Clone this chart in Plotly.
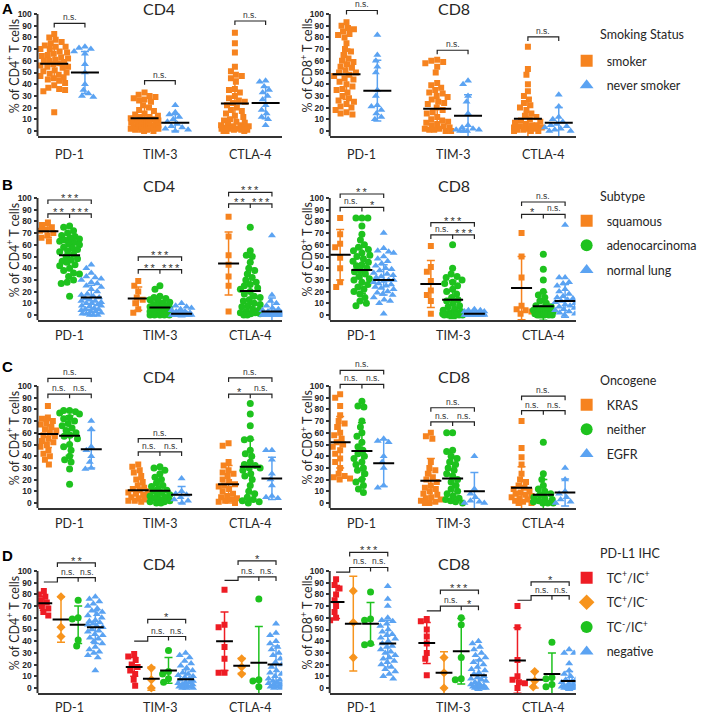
import numpy as np
import plotly.graph_objects as go

W, H = 702, 717
CATEGORIES = ["PD-1", "TIM-3", "CTLA-4"]
CELLS = ["CD4", "CD8"]
Y_TICKS = list(range(0, 101, 10))

# ---------------- Panel A: smoking status ----------------
A_GROUPS = ["smoker", "never smoker"]
A_CD4_smoker = [
    [83, 80, 78, 76, 75, 73, 72, 72, 70, 70, 68, 67, 66, 65, 64, 63, 62, 61, 60, 60, 59, 58, 57, 56, 55, 55, 54, 52, 51, 50, 49, 48, 47, 46, 45, 44, 43, 41, 39, 37, 36, 35, 34, 16],
    [33, 31, 30, 29, 28, 27, 26, 25, 22, 20, 18, 17, 15, 14, 13, 12, 12, 11, 10, 10, 9, 9, 8, 8, 7, 7, 6, 6, 5, 5, 5, 4, 4, 3, 3, 3, 2, 2, 2, 1, 1, 1, 0, 0],
    [84, 75, 67, 55, 51, 48, 47, 45, 42, 36, 35, 33, 30, 28, 26, 25, 24, 22, 20, 18, 17, 15, 13, 12, 10, 9, 8, 7, 6, 5, 5, 4, 4, 3, 3, 2, 2, 2, 1, 1, 1, 0, 0, 0],
]
A_CD4_smoker_mean = [57.5, 11, 23.5]
A_CD4_smoker_sd = [13, 9.5, 21]
A_CD4_never = [
    [72, 71, 70, 68, 66, 57, 50, 40, 35, 32, 30, 29],
    [22, 16, 14, 12, 10, 8, 6, 4, 3, 2, 1, 0],
    [43, 42, 38, 35, 33, 30, 27, 22, 18, 15, 12, 10, 5],
]
A_CD4_never_mean = [50, 7, 24]
A_CD4_never_sd = [18, 7, 13.5]
A_CD8_smoker = [
    [93, 90, 88, 87, 85, 83, 82, 80, 75, 70, 68, 65, 62, 60, 59, 57, 55, 54, 52, 50, 50, 48, 47, 45, 44, 42, 40, 38, 36, 35, 33, 30, 28, 26, 25, 23, 21, 20, 18, 16, 15, 14],
    [61, 60, 59, 58, 55, 50, 41, 39, 37, 35, 33, 32, 30, 29, 27, 25, 24, 23, 20, 18, 16, 15, 12, 10, 9, 8, 7, 6, 5, 4, 3, 2, 2, 1, 1, 0, 0],
    [72, 53, 48, 40, 34, 30, 27, 24, 22, 20, 18, 15, 13, 12, 10, 9, 8, 7, 6, 5, 5, 4, 3, 3, 2, 2, 1, 1, 0, 0, 0],
]
A_CD8_smoker_mean = [48.5, 19, 10.5]
A_CD8_smoker_sd = [21.5, 18, 17.5]
A_CD8_never = [
    [82, 65, 60, 55, 50, 35, 30, 22, 21, 18, 15, 12, 10],
    [43, 40, 30, 25, 15, 5, 3, 2, 1, 1, 0, 0, 0],
    [31, 21, 12, 10, 8, 6, 5, 4, 3, 2, 1, 0, 0],
]
A_CD8_never_mean = [34.5, 13, 7]
A_CD8_never_sd = [26, 18, 13]
A_CD4_BRACKET = [92, 43, 94]
A_CD8_BRACKET = [103, 69, 80.5]
A_CD4_SIG = ["n.s.", "n.s.", "n.s."]
A_CD8_SIG = ["n.s.", "n.s.", "n.s."]

# ---------------- Panel B: subtype ----------------
B_GROUPS = ["squamous", "adenocarcinoma", "normal lung"]
B_CD4_squam = [
    [79, 77, 75, 73, 72, 70, 68, 66, 63],
    [29, 25, 20, 15, 13, 10, 5, 2],
    [84, 67, 51, 43, 33, 25, 3],
]
B_CD4_squam_mean = [71.5, 14, 44]
B_CD4_squam_sd = [5, 10, 27]
B_CD4_adeno = [
    [76, 75, 72, 70, 68, 67, 66, 65, 64, 63, 62, 61, 60, 58, 57, 56, 55, 54, 52, 50, 48, 47, 46, 45, 43, 42, 40, 38, 36, 35, 33, 30, 28, 27, 16],
    [25, 22, 16, 15, 14, 13, 12, 11, 10, 9, 8, 8, 7, 7, 6, 6, 5, 5, 5, 4, 4, 3, 3, 3, 2, 2, 2, 1, 1, 1, 0, 0, 0, 0, 0],
    [75, 55, 51, 50, 45, 40, 38, 35, 32, 30, 28, 26, 25, 23, 22, 20, 18, 16, 15, 13, 12, 10, 9, 8, 7, 5, 4, 3, 2, 2, 1, 1, 0, 0],
]
B_CD4_adeno_mean = [51, 6.5, 20.5]
B_CD4_adeno_sd = [13, 6, 19.5]
B_CD4_normal = [
    [43, 40, 36, 33, 32, 31, 30, 28, 27, 25, 24, 22, 20, 18, 17, 16, 15, 14, 13, 12, 12, 11, 10, 10, 9, 8, 8, 7, 6, 5, 5, 4, 3, 3, 2, 1, 1, 0, 0, 0],
    [10, 8, 7, 6, 5, 4, 3, 3, 2, 2, 1, 1, 1, 1, 0, 0, 0, 0, 0, 0, 0, 0, 0, 0, 0, 0, 0, 0],
    [68, 17, 12, 10, 8, 6, 5, 4, 3, 3, 2, 2, 1, 1, 1, 0, 0, 0, 0, 0, 0, 0, 0, 0, 0, 0],
]
B_CD4_normal_mean = [15, 1, 3]
B_CD4_normal_sd = [10.5, 2.5, 11.5]
B_CD8_squam = [
    [83, 69, 61, 58, 49, 40, 28, 24],
    [59, 41, 37, 29, 21, 17, 12, 1],
    [70, 50, 32, 8, 5, 4, 3, 1],
]
B_CD8_squam_mean = [51.5, 26.5, 23]
B_CD8_squam_sd = [21.5, 20, 27]
B_CD8_adeno = [
    [83, 83, 83, 76, 69, 64, 60, 58, 56, 55, 53, 51, 50, 48, 46, 45, 43, 42, 40, 38, 37, 35, 33, 31, 30, 28, 26, 24, 22, 20, 18, 15, 12, 10, 8],
    [60, 40, 35, 33, 32, 30, 28, 27, 25, 22, 20, 18, 15, 13, 12, 10, 8, 7, 5, 4, 3, 2, 2, 1, 1, 1, 0, 0, 0, 0, 0, 0],
    [52, 39, 30, 20, 17, 15, 12, 10, 8, 7, 6, 5, 4, 3, 3, 2, 2, 1, 1, 0, 0, 0, 0, 0, 0],
]
B_CD8_adeno_mean = [38.5, 13, 7.5]
B_CD8_adeno_sd = [20, 16, 12]
B_CD8_normal = [
    [70, 57, 55, 54, 53, 50, 48, 46, 44, 42, 40, 39, 38, 36, 35, 34, 33, 32, 30, 30, 29, 28, 27, 26, 25, 24, 23, 22, 20, 19, 18, 17, 15, 13, 12, 10, 1],
    [5, 4, 4, 3, 3, 2, 2, 2, 1, 1, 1, 1, 0, 0, 0, 0, 0, 0, 0, 0, 0, 0, 0, 0, 0, 0, 0],
    [77, 32, 32, 28, 27, 25, 22, 20, 18, 16, 15, 14, 13, 12, 11, 10, 9, 8, 7, 6, 5, 4, 3, 2, 1, 0],
]
B_CD8_normal_mean = [30, 1, 12]
B_CD8_normal_sd = [13, 1.5, 14]
B_CD4_BRACKET_TOP = [98.3, 49.6, 104.8]
B_CD4_BRACKET_LOW = [86.4, 38.8, 95]
B_CD4_SIG_TOP = ["***", "***", "***"]
B_CD4_SIG_LEFT = ["**", "**", "**"]
B_CD4_SIG_RIGHT = ["***", "***", "***"]
B_CD8_BRACKET_TOP = [103.4, 78.9, 96.6]
B_CD8_BRACKET_LOW = [92, 68.5, 86]
B_CD8_SIG_TOP = ["**", "***", "n.s."]
B_CD8_SIG_LEFT = ["n.s.", "n.s.", "*"]
B_CD8_SIG_RIGHT = ["*", "***", "n.s."]

# ---------------- Panel C: oncogene ----------------
C_GROUPS = ["KRAS", "neither", "EGFR"]
C_CD4_kras = [
    [83, 73, 72, 70, 68, 67, 65, 63, 62, 60, 58, 57, 55, 53, 52, 50, 48, 45, 42, 40, 37, 33],
    [33, 31, 28, 26, 23, 20, 18, 15, 13, 12, 11, 10, 9, 8, 7, 6, 5, 4, 3, 2, 2, 1],
    [51, 49, 35, 32, 28, 26, 25, 23, 20, 18, 16, 15, 14, 12, 10, 8, 6, 5, 4, 3, 2, 1, 0],
]
C_CD4_kras_mean = [59, 11, 16]
C_CD4_kras_sd = [11.5, 9, 16]
C_CD4_neither = [
    [79, 79, 78, 77, 76, 73, 72, 70, 68, 66, 64, 62, 60, 58, 57, 55, 50, 48, 45, 40, 37, 35, 29, 16],
    [31, 30, 28, 25, 22, 20, 17, 15, 14, 12, 11, 10, 9, 8, 7, 6, 5, 4, 3, 2, 1, 1, 0, 0],
    [85, 76, 66, 55, 54, 45, 42, 40, 35, 33, 32, 30, 30, 28, 25, 23, 20, 15, 10, 8, 5, 3, 2, 1, 0],
]
C_CD4_neither_mean = [57.5, 10.5, 31]
C_CD4_neither_sd = [17, 9.5, 23]
C_CD4_egfr = [
    [70, 63, 48, 45, 40, 35, 30, 29],
    [21, 10, 8, 7, 5, 3, 2, 0],
    [45, 45, 37, 25, 20, 15, 6, 5, 4],
]
C_CD4_egfr_mean = [46, 7, 21]
C_CD4_egfr_sd = [16, 7, 18]
C_CD8_kras = [
    [93, 90, 83, 75, 70, 68, 65, 60, 58, 55, 52, 50, 48, 45, 42, 38, 35, 30, 25, 23, 22, 21, 20],
    [60, 57, 55, 35, 30, 28, 25, 22, 20, 18, 15, 13, 12, 10, 8, 7, 5, 4, 3, 2, 1, 0, 0],
    [70, 47, 39, 33, 25, 20, 18, 15, 13, 12, 10, 9, 8, 7, 6, 5, 4, 3, 2, 1, 0, 0],
]
C_CD8_kras_mean = [52, 19, 13]
C_CD8_kras_sd = [22, 19, 18]
C_CD8_neither = [
    [87, 83, 82, 70, 65, 60, 57, 52, 48, 45, 42, 40, 38, 35, 33, 30, 28, 25, 20, 18, 15, 12, 9],
    [60, 60, 45, 44, 40, 38, 35, 33, 30, 28, 25, 23, 20, 18, 15, 12, 10, 8, 6, 4, 3, 2, 1, 0],
    [52, 25, 20, 15, 12, 10, 8, 7, 5, 4, 3, 2, 1, 0, 0, 0],
]
C_CD8_neither_mean = [44.5, 21, 7]
C_CD8_neither_sd = [24, 19, 13]
C_CD8_egfr = [
    [55, 53, 52, 40, 35, 30, 15, 13],
    [40, 12, 8, 5, 2, 1, 0, 0],
    [30, 20, 10, 8, 5, 3, 1, 0],
]
C_CD8_egfr_mean = [34, 10, 9]
C_CD8_egfr_sd = [20, 16, 11.5]
C_CD4_BRACKET_TOP = [106.6, 55, 107]
C_CD4_BRACKET_LOW = [93, 43.7, 93]
C_CD4_SIG_TOP = ["n.s.", "n.s.", "n.s."]
C_CD4_SIG_LEFT = ["n.s.", "n.s.", "*"]
C_CD4_SIG_RIGHT = ["n.s.", "n.s.", "n.s."]
C_CD8_BRACKET_TOP = [113.4, 81.4, 91.4]
C_CD8_BRACKET_LOW = [101.4, 69.4, 79]
C_CD8_SIG_TOP = ["n.s.", "n.s.", "n.s."]
C_CD8_SIG_LEFT = ["n.s.", "n.s.", "n.s."]
C_CD8_SIG_RIGHT = ["n.s.", "n.s.", "n.s."]

# ---------------- Panel D: PD-L1 IHC ----------------
D_GROUPS = ["TC<sup>+</sup>/IC<sup>+</sup>", "TC<sup>+</sup>/IC<sup>-</sup>",
            "TC<sup>-</sup>/IC<sup>+</sup>", "negative"]
D_CD4_pp = [
    [83, 80, 78, 75, 73, 72, 70, 68, 65, 62],
    [29, 27, 24, 20, 18, 15, 12, 7, 2],
    [84, 54, 52, 35, 25, 13, 13],
]
D_CD4_pp_mean = [72.5, 18, 40]
D_CD4_pp_sd = [6, 8, 25]
D_CD4_pm = [
    [78, 52, 44],
    [17, 7, 0],
    [25, 18, 12],
]
D_CD4_pm_mean = [58.5, 8, 19]
D_CD4_pm_sd = [19.5, 10, 6.5]
D_CD4_mp = [
    [75, 60, 59, 41, 36],
    [32, 14, 12, 8, 5],
    [76, 7, 6, 1],
]
D_CD4_mp_mean = [54, 15, 21.5]
D_CD4_mp_sd = [16, 11, 31]
D_CD4_neg = [
    [78, 76, 74, 72, 70, 68, 66, 65, 63, 62, 60, 58, 57, 56, 55, 54, 53, 52, 50, 49, 48, 46, 45, 43, 42, 40, 38, 35, 33, 31, 30, 28, 26, 15],
    [30, 28, 26, 23, 21, 19, 17, 15, 13, 12, 11, 10, 9, 8, 7, 6, 5, 5, 4, 3, 3, 2, 2, 1, 1, 0, 0, 0],
    [55, 47, 45, 40, 38, 35, 33, 30, 28, 25, 22, 20, 18, 15, 13, 12, 10, 8, 7, 6, 5, 5, 4, 3, 3, 2, 1, 1, 0, 0],
]
D_CD4_neg_mean = [52, 7.5, 20]
D_CD4_neg_sd = [14, 8, 16]
D_CD8_pp = [
    [93, 88, 85, 80, 75, 70, 65, 60, 58],
    [59, 57, 50, 44, 38, 30, 25, 11],
    [70, 52, 24, 10, 7, 5, 4, 0],
]
D_CD8_pp_mean = [73.5, 38.5, 23.5]
D_CD8_pp_sd = [14, 17.5, 28]
D_CD8_pm = [
    [83, 56, 26],
    [26, 13, 0],
    [14, 6, 1],
]
D_CD8_pm_mean = [55, 13, 7]
D_CD8_pm_sd = [40.5, 18, 7]
D_CD8_mp = [
    [82, 59, 58, 38, 37],
    [60, 54, 26, 8, 7],
    [39, 9, 8, 3, 1],
]
D_CD8_mp_mean = [55, 31.5, 12]
D_CD8_mp_sd = [18, 28, 18]
D_CD8_neg = [
    [87, 76, 70, 60, 58, 57, 55, 53, 50, 48, 46, 45, 43, 42, 40, 38, 36, 35, 33, 31, 30, 28, 26, 25, 23, 22, 20, 18, 16, 14, 12, 10, 8],
    [40, 38, 35, 33, 30, 28, 26, 24, 22, 20, 18, 16, 15, 13, 12, 10, 9, 8, 7, 6, 5, 4, 3, 2, 2, 1, 1, 0, 0, 0, 0],
    [33, 30, 30, 21, 15, 12, 10, 8, 7, 6, 5, 4, 3, 3, 2, 2, 1, 1, 1, 0, 0, 0, 0, 0, 0],
]
D_CD8_neg_mean = [38, 11, 6]
D_CD8_neg_sd = [20, 13, 8]
D_CD4_BRACKET_BASE = [90.6, 40, 92]
D_CD4_BRACKET_LOW = [94.3, 44, 95]
D_CD4_BRACKET_TOP = [107, 58.6, 108.6]
D_CD4_SIG_TOP = ["**", "*", "*"]
D_CD4_SIG_LEFT = ["n.s.", "n.s.", "n.s."]
D_CD4_SIG_RIGHT = ["n.s.", "n.s.", "n.s."]
D_CD8_BRACKET_BASE = [99, 66, 75]
D_CD8_BRACKET_LOW = [103, 70, 79]
D_CD8_BRACKET_TOP = [116, 83.6, 90.7]
D_CD8_SIG_TOP = ["***", "***", "*"]
D_CD8_SIG_LEFT = ["n.s.", "n.s.", "n.s."]
D_CD8_SIG_RIGHT = ["n.s.", "*", "n.s."]

LEGEND_TITLES = ["Smoking Status", "Subtype", "Oncogene", "PD-L1 IHC"]
PANEL_LETTERS = ["A", "B", "C", "D"]

# ---------------- styles / geometry ----------------
ORANGE = "#F6831F"
BLUE = "#5BA3F2"
GREEN = "#1EC21E"
RED = "#EE1C24"
ORANGE2 = "#F7941D"
STYLES = {
    "A": [("square", ORANGE, 6), ("triangle-up", BLUE, 7)],
    "B": [("square", ORANGE, 6), ("circle", GREEN, 7), ("triangle-up", BLUE, 7)],
    "C": [("square", ORANGE, 6), ("circle", GREEN, 7), ("triangle-up", BLUE, 7)],
    "D": [("square", RED, 6), ("diamond", ORANGE2, 7), ("circle", GREEN, 7), ("triangle-up", BLUE, 7)],
}
OFFSETS = {2: [-0.17, 0.17], 3: [-0.24, 0.0, 0.24], 4: [-0.285, -0.095, 0.095, 0.285]}
SWARM_CAP = {2: 14, 3: 10, 4: 7.5}
MEAN_W = {2: 20, 3: 15, 4: 12}

PX_PER_UNIT = 1.17
CAT_PX = 91.5
YMIN = -4.5
ZERO_PX = [131, 315, 503, 688]
YTOP = [106, 107, 116, 118]
XDOM_PX = [(38, 286), (334, 583)]
XRANGE = [-0.355, 2.355]
XLABEL_Y = [154, 335, 523, 707]
TITLE_Y = [8, 185, 376, 563]
LETTER_Y = [9, 184, 367, 555]
LEG_TITLE_Y = [35, 196, 380, 553]
LEG_TOP = [46, 206, 390, 563]
LEG_GAP = 5.4
LEG_X = 574
INK = "#262626"
FONT = "Lato"

ROWS = [
    dict(groups=A_GROUPS, kind=2,
         data=[[A_CD4_smoker, A_CD4_never], [A_CD8_smoker, A_CD8_never]],
         means=[[A_CD4_smoker_mean, A_CD4_never_mean], [A_CD8_smoker_mean, A_CD8_never_mean]],
         sds=[[A_CD4_smoker_sd, A_CD4_never_sd], [A_CD8_smoker_sd, A_CD8_never_sd]],
         br=[dict(top=A_CD4_BRACKET, st=A_CD4_SIG), dict(top=A_CD8_BRACKET, st=A_CD8_SIG)]),
    dict(groups=B_GROUPS, kind=3,
         data=[[B_CD4_squam, B_CD4_adeno, B_CD4_normal], [B_CD8_squam, B_CD8_adeno, B_CD8_normal]],
         means=[[B_CD4_squam_mean, B_CD4_adeno_mean, B_CD4_normal_mean], [B_CD8_squam_mean, B_CD8_adeno_mean, B_CD8_normal_mean]],
         sds=[[B_CD4_squam_sd, B_CD4_adeno_sd, B_CD4_normal_sd], [B_CD8_squam_sd, B_CD8_adeno_sd, B_CD8_normal_sd]],
         br=[dict(top=B_CD4_BRACKET_TOP, low=B_CD4_BRACKET_LOW, st=B_CD4_SIG_TOP, sl=B_CD4_SIG_LEFT, sr=B_CD4_SIG_RIGHT),
             dict(top=B_CD8_BRACKET_TOP, low=B_CD8_BRACKET_LOW, st=B_CD8_SIG_TOP, sl=B_CD8_SIG_LEFT, sr=B_CD8_SIG_RIGHT)]),
    dict(groups=C_GROUPS, kind=3,
         data=[[C_CD4_kras, C_CD4_neither, C_CD4_egfr], [C_CD8_kras, C_CD8_neither, C_CD8_egfr]],
         means=[[C_CD4_kras_mean, C_CD4_neither_mean, C_CD4_egfr_mean], [C_CD8_kras_mean, C_CD8_neither_mean, C_CD8_egfr_mean]],
         sds=[[C_CD4_kras_sd, C_CD4_neither_sd, C_CD4_egfr_sd], [C_CD8_kras_sd, C_CD8_neither_sd, C_CD8_egfr_sd]],
         br=[dict(top=C_CD4_BRACKET_TOP, low=C_CD4_BRACKET_LOW, st=C_CD4_SIG_TOP, sl=C_CD4_SIG_LEFT, sr=C_CD4_SIG_RIGHT),
             dict(top=C_CD8_BRACKET_TOP, low=C_CD8_BRACKET_LOW, st=C_CD8_SIG_TOP, sl=C_CD8_SIG_LEFT, sr=C_CD8_SIG_RIGHT)]),
    dict(groups=D_GROUPS, kind=4,
         data=[[D_CD4_pp, D_CD4_pm, D_CD4_mp, D_CD4_neg], [D_CD8_pp, D_CD8_pm, D_CD8_mp, D_CD8_neg]],
         means=[[D_CD4_pp_mean, D_CD4_pm_mean, D_CD4_mp_mean, D_CD4_neg_mean], [D_CD8_pp_mean, D_CD8_pm_mean, D_CD8_mp_mean, D_CD8_neg_mean]],
         sds=[[D_CD4_pp_sd, D_CD4_pm_sd, D_CD4_mp_sd, D_CD4_neg_sd], [D_CD8_pp_sd, D_CD8_pm_sd, D_CD8_mp_sd, D_CD8_neg_sd]],
         br=[dict(base=D_CD4_BRACKET_BASE, low=D_CD4_BRACKET_LOW, top=D_CD4_BRACKET_TOP, st=D_CD4_SIG_TOP, sl=D_CD4_SIG_LEFT, sr=D_CD4_SIG_RIGHT),
             dict(base=D_CD8_BRACKET_BASE, low=D_CD8_BRACKET_LOW, top=D_CD8_BRACKET_TOP, st=D_CD8_SIG_TOP, sl=D_CD8_SIG_LEFT, sr=D_CD8_SIG_RIGHT)]),
]


def swarm_offsets(values, cap_px, d_px=6.0):
    """Deterministic beeswarm: horizontal offsets (category units) from the values."""
    ys = np.asarray(values, dtype=float) * PX_PER_UNIT
    xs = np.zeros(len(ys))
    grid = np.arange(-cap_px, cap_px + 1e-9, 0.5)
    grid = grid[np.argsort(np.abs(grid) + (grid > 0) * 1e-6, kind="stable")]
    px_l, py_l = [], []
    for i in np.argsort(-ys, kind="stable"):
        y = ys[i]
        x = 0.0
        if px_l:
            px = np.array(px_l)
            py = np.array(py_l)
            near = np.abs(py - y) < d_px
            if near.any():
                dist = np.sqrt((grid[:, None] - px[near][None, :]) ** 2 + (y - py[near])[None, :] ** 2).min(axis=1)
                ok = dist >= d_px
                x = grid[ok][0] if ok.any() else grid[np.argmax(dist)]
        xs[i] = x
        px_l.append(x)
        py_l.append(y)
    return xs / CAT_PX


def star(s):
    return s if s == "n.s." else "\u2009".join(s)


fig = go.Figure()
layout = dict(width=W, height=H, margin=dict(l=0, r=0, t=0, b=0),
              paper_bgcolor="white", plot_bgcolor="white", showlegend=True,
              annotations=[], shapes=[])

for r, row in enumerate(ROWS):
    n = row["kind"]
    offs = OFFSETS[n]
    styles = STYLES[PANEL_LETTERS[r]]
    leg_name = "legend" if r == 0 else f"legend{r + 1}"
    for j in range(2):
        k = r * 2 + j + 1
        xa = "x" if k == 1 else f"x{k}"
        ya = "y" if k == 1 else f"y{k}"
        xname = "xaxis" if k == 1 else f"xaxis{k}"
        yname = "yaxis" if k == 1 else f"yaxis{k}"
        x0p, x1p = XDOM_PX[j]
        bottom_px = ZERO_PX[r] - YMIN * PX_PER_UNIT
        top_px = ZERO_PX[r] - YTOP[r] * PX_PER_UNIT
        layout[xname] = dict(domain=[x0p / W, x1p / W], range=XRANGE, anchor=ya,
                             tickvals=[0, 1, 2], showticklabels=False, ticks="",
                             showline=True, linewidth=2, linecolor="#333",
                             showgrid=False, zeroline=False, fixedrange=True)
        layout[yname] = dict(domain=[1 - bottom_px / H, 1 - top_px / H], range=[YMIN, YTOP[r]], anchor=xa,
                             tickvals=Y_TICKS, ticks="outside", ticklen=3, tickwidth=1.5, tickcolor="#333",
                             showline=False, showgrid=False, zeroline=False, fixedrange=True,
                             tickfont=dict(family="Liberation Sans, Arial", size=8.5, color=INK, weight="bold"))
        # y axis line from the bottom of the range up to 100
        layout["shapes"].append(dict(type="line", xref=f"{xa} domain", x0=0, x1=0, yref=ya, y0=YMIN, y1=100,
                                     line=dict(color="#333", width=2)))
        # category labels under the axis
        for c, cat in enumerate(CATEGORIES):
            layout["annotations"].append(dict(
                x=c, y=1 - XLABEL_Y[r] / H, xref=xa, yref="paper", text=cat, showarrow=False,
                xanchor="center", yanchor="middle", borderpad=0,
                font=dict(family=FONT, size=12.5, color=INK)))
        for g in range(n):
            sym, col, msz = styles[g]
            vals = row["data"][j][g]
            xs, ys = [], []
            for c in range(3):
                sw = swarm_offsets(vals[c], SWARM_CAP[n])
                xs += list(c + offs[g] + sw)
                ys += list(vals[c])
            fig.add_trace(go.Scatter(
                x=xs, y=ys, xaxis=xa, yaxis=ya, mode="markers", name=row["groups"][g],
                marker=dict(symbol=sym, size=msz, color=col, line=dict(width=0)),
                showlegend=(j == 0), legend=leg_name, legendgroup=f"r{r}g{g}",
                hoverinfo="skip"))
            fig.add_trace(go.Scatter(
                x=[c + offs[g] for c in range(3)], y=row["means"][j][g], xaxis=xa, yaxis=ya,
                mode="markers", showlegend=False, hoverinfo="skip",
                marker=dict(symbol="line-ew", size=MEAN_W[n], color="black", line=dict(width=2, color="black")),
                error_y=dict(type="data", array=row["sds"][j][g], color=col, thickness=1.5, width=4)))
        # significance brackets
        br = row["br"][j]
        bx, by = [], []
        t = 3.5
        lab = []
        for c in range(3):
            g = [c + o for o in offs]
            if n == 2:
                L = br["top"][c]
                bx += [g[0], g[0], g[1], g[1], None]
                by += [L - t, L, L, L - t, None]
                lab.append(((g[0] + g[1]) / 2, L, br["st"][c]))
            elif n == 3:
                T, L = br["top"][c], br["low"][c]
                bx += [g[0], g[0], g[2], g[2], None, g[0], g[0], g[2], g[2], None, g[1], g[1], None]
                by += [T - t, T, T, T - t, None, L - t, L, L, L - t, None, L, L - t, None]
                lab += [(g[1], T, br["st"][c]), ((g[0] + g[1]) / 2, L, br["sl"][c]), ((g[1] + g[2]) / 2, L, br["sr"][c])]
            else:
                S, L, T = br["base"][c], br["low"][c], br["top"][c]
                xc = g[1] - 0.04
                bx += [g[0], xc, xc, g[3], g[3], None, g[2], g[2], None, xc, xc, g[3], g[3], None]
                by += [S, S, L, L, L - t, None, L, L - t, None, T - t, T, T, T - t, None]
                lab += [((xc + g[3]) / 2, T, br["st"][c]), ((xc + g[2]) / 2, L, br["sl"][c]), ((g[2] + g[3]) / 2, L, br["sr"][c])]
        fig.add_trace(go.Scatter(x=bx, y=by, xaxis=xa, yaxis=ya, mode="lines", showlegend=False,
                                 hoverinfo="skip", line=dict(color="#222", width=1.2)))
        for (lx, ly, s) in lab:
            is_ns = s == "n.s."
            layout["annotations"].append(dict(
                x=lx, y=ly, xref=xa, yref=ya, text=star(s), showarrow=False,
                yanchor="middle", yshift=6 if is_ns else 2, borderpad=0,
                font=dict(family="Liberation Sans, Arial", size=8.5 if is_ns else 11, color="#333")))
        # cell title
        layout["annotations"].append(dict(
            x=(161 if j == 0 else 460) / W, y=1 - TITLE_Y[r] / H, xref="paper", yref="paper",
            text=CELLS[j], showarrow=False, xanchor="center", yanchor="middle",
            font=dict(family=FONT, size=16, color=INK)))
        # y title
        ymid = ZERO_PX[r] - 50 * PX_PER_UNIT - 7
        layout["annotations"].append(dict(
            x=(13 if j == 0 else 310) / W, y=1 - ymid / H, xref="paper", yref="paper",
            text=f"% of {CELLS[j]}<sup>+</sup> T cells", textangle=-90, showarrow=False,
            xanchor="center", yanchor="middle", font=dict(family=FONT, size=12.5, color=INK)))
    # panel letter
    layout["annotations"].append(dict(
        x=8 / W, y=1 - LETTER_Y[r] / H, xref="paper", yref="paper", text=f"<b>{PANEL_LETTERS[r]}</b>",
        showarrow=False, xanchor="center", yanchor="middle",
        font=dict(family="Liberation Sans, Arial", size=15, color="black")))
    # legend title
    layout["annotations"].append(dict(
        x=606 / W, y=1 - LEG_TITLE_Y[r] / H, xref="paper", yref="paper", text=LEGEND_TITLES[r],
        showarrow=False, xanchor="left", yanchor="middle", font=dict(family=FONT, size=12.5, color=INK)))
    layout[leg_name] = dict(x=LEG_X / W, xanchor="left", y=1 - LEG_TOP[r] / H, yanchor="top",
                            font=dict(family=FONT, size=12.5, color=INK), itemsizing="constant",
                            tracegroupgap=LEG_GAP, bgcolor="rgba(0,0,0,0)", borderwidth=0,
                            itemclick=False, itemdoubleclick=False)

fig.update_layout(**layout)
fig.write_html("out.html", config={"displayModeBar": False},
               post_script="document.body.style.margin='0px';")
